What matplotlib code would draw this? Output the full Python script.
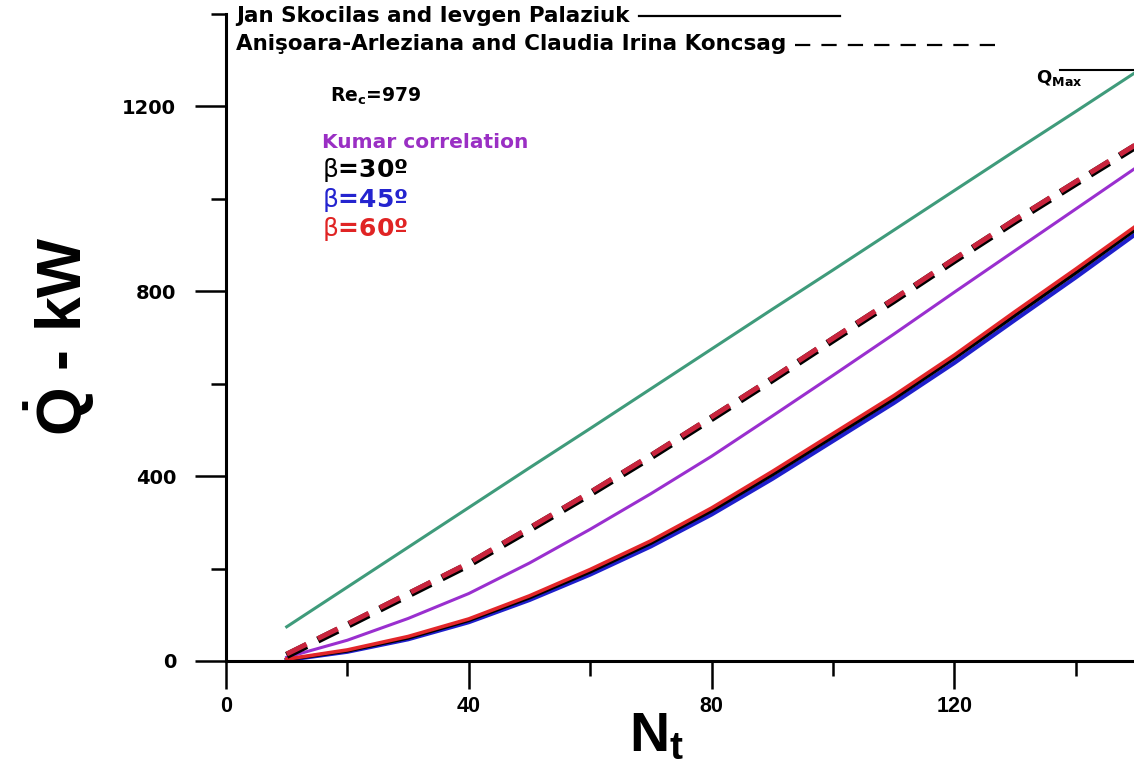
import matplotlib
matplotlib.use("Agg")
import matplotlib.pyplot as plt
from matplotlib.lines import Line2D
from matplotlib.ticker import MultipleLocator

plt.rcParams['mathtext.fontset'] = 'custom'
plt.rcParams['mathtext.bf'] = 'Liberation Sans:bold'
plt.rcParams['mathtext.sf'] = 'DejaVu Sans:bold'
plt.rcParams['mathtext.rm'] = 'DejaVu Sans'
plt.rcParams['lines.scale_dashes'] = False

# number of tubes
n_tubes = [10, 20, 30, 40, 50, 60, 70, 80, 90, 100, 110, 120, 130, 140, 150]

# heat duty (kW)
q_max = [74, 160, 246, 332, 418, 503, 589, 675, 761, 846, 932, 1018, 1104, 1189, 1275]
kumar = [8, 45, 92, 146, 212, 285, 362, 443, 530, 618, 707, 798, 888, 978, 1068]
# Jan Skocilas and Ievgen Palaziuk (solid)
sko_30 = [3, 22, 50, 88, 137, 193, 255, 325, 403, 485, 567, 655, 748, 840, 935]
sko_45 = [2, 20, 47, 84, 132, 187, 248, 317, 394, 476, 558, 645, 738, 830, 925]
sko_60 = [4, 24, 53, 91, 141, 198, 260, 331, 410, 492, 574, 662, 756, 848, 942]
# Anisoara-Arleziana and Claudia Irina Koncsag (dashed)
kon_30 = [12, 77, 143, 209, 285, 362, 442, 525, 609, 695, 780, 867, 952, 1034, 1115]
kon_60 = [15, 80, 146, 212, 288, 365, 445, 528, 612, 698, 783, 870, 955, 1037, 1118]

W, H = 1134, 763
fig = plt.figure(figsize=(W / 100, H / 100), dpi=100)
ax = fig.add_axes([226 / W, 1 - 661 / H, 908 / W, (661 - 14) / H])

ax.plot(n_tubes, q_max, color='#3f9b7b', lw=2.2)
ax.plot(n_tubes, kumar, color='#9a2fcf', lw=2.2)
ax.plot(n_tubes, sko_45, color='#1f1fcc', lw=3.0)
ax.plot(n_tubes, sko_30, color='black', lw=2.6)
ax.plot(n_tubes, sko_60, color='#e3262a', lw=2.6)
ax.plot(n_tubes, kon_30, color='black', lw=5.2, dashes=(16, 9))
ax.plot(n_tubes, kon_60, color='#c9243d', lw=3.6, dashes=(16, 9))

ax.set_xlim(0, 149.6)
ax.set_ylim(0, 1400)
for s in ['top', 'right']:
    ax.spines[s].set_visible(False)
for s in ['left', 'bottom']:
    ax.spines[s].set_linewidth(2.2)

ax.xaxis.set_major_locator(MultipleLocator(40))
ax.xaxis.set_minor_locator(MultipleLocator(20))
ax.yaxis.set_major_locator(MultipleLocator(400))
ax.yaxis.set_minor_locator(MultipleLocator(200))
ax.tick_params(axis='y', which='major', direction='out', length=22, width=1.8, pad=14)
ax.tick_params(axis='y', which='minor', direction='out', length=11, width=1.8)
ax.tick_params(axis='x', which='major', direction='out', length=20, width=1.8, pad=5)
ax.tick_params(axis='x', which='minor', direction='out', length=11, width=1.8)
for lab in ax.get_yticklabels():
    lab.set_fontfamily('DejaVu Sans')
    lab.set_fontweight('bold')
    lab.set_fontsize(14)
for lab in ax.get_xticklabels():
    lab.set_fontfamily('Liberation Sans')
    lab.set_fontweight('bold')
    lab.set_fontsize(15.5)

fig.text(60 / W, 1 - 336 / H, r'$\mathbf{\dot{Q}}$ - kW', rotation=90,
         ha='center', va='center', fontsize=45, fontweight='bold',
         family='Liberation Sans')
fig.text(657 / W, 1 - 736 / H, r'$\mathbf{N_t}$', ha='center', va='center', fontsize=40)

# legend rows
t1 = fig.text(236 / W, 1 - 16 / H, 'Jan Skocilas and Ievgen Palaziuk', ha='left', va='center',
              fontsize=15.5, fontweight='bold', family='DejaVu Sans')
t2 = fig.text(236 / W, 1 - 44 / H, 'Anişoara-Arleziana and Claudia Irina Koncsag', ha='left',
              va='center', fontsize=15.5, fontweight='bold', family='DejaVu Sans')
fig.canvas.draw()
r = fig.canvas.get_renderer()
b1 = t1.get_window_extent(r)
b2 = t2.get_window_extent(r)
fig.add_artist(Line2D([(b1.x1 + 9) / W, (b1.x1 + 210) / W], [1 - 16 / H, 1 - 16 / H],
                      transform=fig.transFigure, color='black', lw=1.6))
fig.add_artist(Line2D([(b2.x1 + 9) / W, (b2.x1 + 215) / W], [1 - 45 / H, 1 - 45 / H],
                      transform=fig.transFigure, color='black', lw=1.6, dashes=(11, 8)))

fig.text(330 / W, 1 - 96 / H, r'Re$_{\mathsf{c}}$=979', ha='left', va='center',
         fontsize=13.5, fontweight='bold', family='DejaVu Sans')
fig.text(322 / W, 1 - 143 / H, 'Kumar correlation', ha='left', va='center',
         fontsize=14.5, fontweight='bold', family='DejaVu Sans', color='#9a2fc4')
fig.text(322 / W, 1 - 170 / H, r'$\mathrm{\beta}$=30º', ha='left', va='center',
         fontsize=18, fontweight='bold', family='DejaVu Sans', color='black')
fig.text(322 / W, 1 - 200 / H, r'$\mathrm{\beta}$=45º', ha='left', va='center',
         fontsize=18, fontweight='bold', family='DejaVu Sans', color='#2424cf')
fig.text(322 / W, 1 - 229 / H, r'$\mathrm{\beta}$=60º', ha='left', va='center',
         fontsize=18, fontweight='bold', family='DejaVu Sans', color='#e02424')

fig.text(1036 / W, 1 - 78 / H, r'Q$_{\mathsf{Max}}$', ha='left', va='center',
         fontsize=13, fontweight='bold', family='DejaVu Sans')
fig.add_artist(Line2D([1060 / W, 1134 / W], [1 - 70 / H, 1 - 70 / H],
                      transform=fig.transFigure, color='black', lw=1.5))

fig.savefig('out.png', dpi=100)
